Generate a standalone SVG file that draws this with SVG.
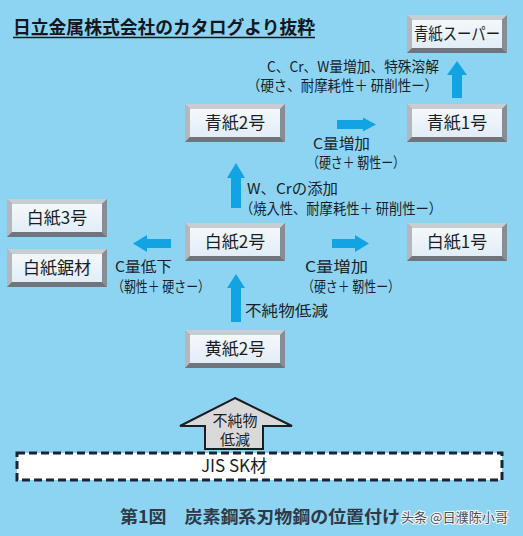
<svg xmlns="http://www.w3.org/2000/svg" xmlns:xlink="http://www.w3.org/1999/xlink" width="523" height="536" viewBox="0 0 523 536">
<style>
.nt{font-family:"Noto Sans CJK JP","Liberation Sans",sans-serif;font-size:17px;fill:#1a1e24;text-anchor:middle}
.lb{font-family:"Noto Sans CJK JP","Liberation Sans",sans-serif;font-size:14.5px;fill:#1a1e28}
.ar{fill:#12a3e2}
</style>
<defs>
<linearGradient id="face" x1="0" y1="0" x2="0" y2="1">
<stop offset="0" stop-color="#f4f8fc"/>
<stop offset="1" stop-color="#e2edf7"/>
</linearGradient>
<symbol id="box" viewBox="0 0 100 38" width="100" height="38">
<rect x="0" y="0" width="100" height="38" fill="#9aa0a6"/>
<polygon points="0,0 100,0 95,5 5,5" fill="#c8cdd2"/>
<polygon points="0,0 5,5 5,33 0,38" fill="#b3b8bd"/>
<polygon points="0,38 5,33 95,33 100,38" fill="#6e757c"/>
<polygon points="100,0 100,38 95,33 95,5" fill="#878d94"/>
<rect x="5" y="5" width="90" height="28" fill="url(#face)"/>
</symbol>
</defs>
<rect width="523" height="536" fill="#8dd4f2"/>

<g id="title">
<text x="13" y="34" font-family="Noto Sans CJK JP,Liberation Sans,sans-serif" font-size="18" font-weight="bold" fill="#14181e" textLength="302" lengthAdjust="spacingAndGlyphs">日立金属株式会社のカタログより抜粋</text>
<line x1="13" y1="37.5" x2="315" y2="37.5" stroke="#14181e" stroke-width="1.6"/>
</g>

<g id="connectors">
<polygon class="ar" points="457,61 467,75 462,75 462,98 452,98 452,75 447,75"/>
<polygon class="ar" points="376,124.5 363,117.5 363,120 337,120 337,129 363,129 363,131.5"/>
<polygon class="ar" points="236,163 245,178 241,178 241,208 231,208 231,178 227,178"/>
<polygon class="ar" points="133,243.5 147,235 147,239 171,239 171,248 147,248 147,252"/>
<polygon class="ar" points="369,243.5 355,235 355,239 332,239 332,248 355,248 355,252"/>
<polygon class="ar" points="236,274 245,288 241,288 241,322 231,322 231,288 227,288"/>
</g>

<g id="labels">
<text class="lb" x="267" y="72" textLength="172" lengthAdjust="spacingAndGlyphs">C、Cr、W量増加、特殊溶解</text>
<text class="lb" x="247" y="91" textLength="191" lengthAdjust="spacingAndGlyphs">（硬さ、耐摩耗性＋ 研削性ー）</text>
<text class="lb" x="313" y="149" textLength="57" lengthAdjust="spacingAndGlyphs">C量増加</text>
<text class="lb" x="307" y="168" textLength="98" lengthAdjust="spacingAndGlyphs">（硬さ＋ 靭性ー）</text>
<text class="lb" x="247" y="194" textLength="91" lengthAdjust="spacingAndGlyphs">W、Crの添加</text>
<text class="lb" x="240" y="214" textLength="202" lengthAdjust="spacingAndGlyphs">（焼入性、耐摩耗性＋ 研削性ー）</text>
<text class="lb" x="115" y="272" textLength="57" lengthAdjust="spacingAndGlyphs">C量低下</text>
<text class="lb" x="112" y="292" textLength="98" lengthAdjust="spacingAndGlyphs">（靭性＋ 硬さー）</text>
<text class="lb" x="305" y="272" textLength="63" lengthAdjust="spacingAndGlyphs">C量増加</text>
<text class="lb" x="302" y="292" textLength="98" lengthAdjust="spacingAndGlyphs">（硬さ＋ 靭性ー）</text>
<text class="lb" x="245" y="316" textLength="83" lengthAdjust="spacingAndGlyphs">不純物低減</text>
</g>

<g id="n-aogami-super"><use xlink:href="#box" x="407" y="15"/><text class="nt" x="457" y="40" textLength="86" lengthAdjust="spacingAndGlyphs">青紙スーパー</text></g>
<g id="n-aogami2"><use xlink:href="#box" x="185" y="104"/><text class="nt" x="235" y="129">青紙2号</text></g>
<g id="n-aogami1"><use xlink:href="#box" x="407" y="104"/><text class="nt" x="457" y="129">青紙1号</text></g>
<g id="n-shirogami3"><use xlink:href="#box" x="7" y="199"/><text class="nt" x="57" y="224">白紙3号</text></g>
<g id="n-shirogami-saw"><use xlink:href="#box" x="7" y="249"/><text class="nt" x="57" y="274">白紙鋸材</text></g>
<g id="n-shirogami2"><use xlink:href="#box" x="185" y="223"/><text class="nt" x="235" y="248">白紙2号</text></g>
<g id="n-shirogami1"><use xlink:href="#box" x="407" y="223"/><text class="nt" x="457" y="248">白紙1号</text></g>
<g id="n-kigami2"><use xlink:href="#box" x="185" y="330"/><text class="nt" x="235" y="355">黄紙2号</text></g>

<g id="n-impurity-arrow">
<polygon points="235,398 292,426 263,426 263,449 205,449 205,426 180,426" fill="#d9d9d9" stroke="#1a1d22" stroke-width="2" stroke-linejoin="miter"/>
<text class="nt" x="235" y="426" style="font-size:15px">不純物</text>
<text class="nt" x="235" y="445" style="font-size:15px">低減</text>
</g>

<g id="n-jis-sk">
<rect x="17" y="453" width="485" height="27" fill="#ffffff" stroke="#1a2533" stroke-width="3" stroke-dasharray="8,4"/>
<text class="nt" x="234" y="472">JIS SK材</text>
</g>

<g id="caption">
<text x="120" y="523" font-family="Noto Sans CJK JP,Liberation Sans,sans-serif" font-size="17" font-weight="bold" fill="#2f3a46" textLength="280" lengthAdjust="spacingAndGlyphs">第1図　炭素鋼系刃物鋼の位置付け</text>
<text x="401" y="522" font-family="Noto Sans CJK SC,Liberation Sans,sans-serif" font-size="13" fill="#4a4f55" stroke="#f4f6f8" stroke-width="2" paint-order="stroke" textLength="107" lengthAdjust="spacingAndGlyphs">头条 @日濮陈小哥</text>
</g>
</svg>
